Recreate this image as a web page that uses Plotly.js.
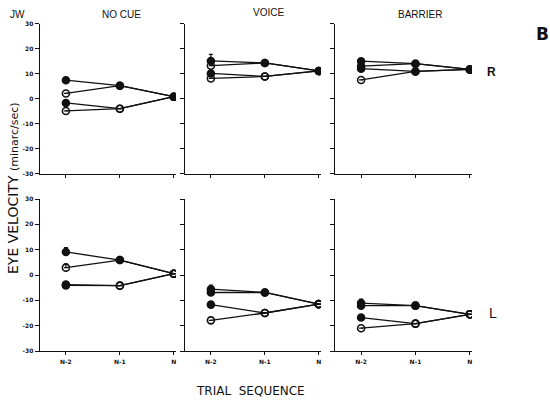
<!DOCTYPE html>
<html>
<head>
<meta charset="utf-8">
<script src="https://cdn.plot.ly/plotly-3.0.1.min.js"></script>
<style>html,body{margin:0;padding:0;background:#fff}#chart{width:550px;height:401px}</style>
</head>
<body>
<div id="chart"></div>
<script>
// ---- data ----
const sequence = ["N-2", "N-1", "N"];
const conditions = ["NO CUE", "VOICE", "BARRIER"];
const yTicks = [-30, -20, -10, 0, 10, 20, 30];

// Each panel: four trial paths (N-2 -> N-1 -> N); F = filled marker, O = open marker
const noCueR_A = [7.4, 5.2, 0.8],   noCueR_B = [2.1, 5.2, 0.8],   noCueR_C = [-1.7, -4.0, 0.8],  noCueR_D = [-4.9, -4.0, 0.8];
const voiceR_A = [15.1, 14.3, 11.1], voiceR_B = [13.2, 14.3, 11.1], voiceR_C = [10.1, 8.9, 11.1], voiceR_D = [8.1, 8.9, 11.1];
const barrierR_A = [15.0, 14.0, 11.7], barrierR_B = [13.0, 14.0, 11.7], barrierR_C = [12.0, 10.9, 11.7], barrierR_D = [7.5, 10.9, 11.7];
const noCueL_A = [9.1, 5.9, 0.5],   noCueL_B = [2.9, 5.9, 0.5],   noCueL_C = [-4.1, -4.2, 0.5],  noCueL_D = [-3.8, -4.2, 0.5];
const voiceL_A = [-5.6, -6.9, -11.5], voiceL_B = [-6.9, -6.9, -11.5], voiceL_C = [-11.7, -15.0, -11.5], voiceL_D = [-17.9, -15.0, -11.5];
const barrierL_A = [-11.1, -12.1, -15.5], barrierL_B = [-12.1, -12.1, -15.5], barrierL_C = [-16.8, -19.2, -15.5], barrierL_D = [-21.0, -19.2, -15.5];

const fillR_A = ["F","F","F"], fillR_B = ["O","F","F"], fillR_C = ["F","O","F"], fillR_D = ["O","O","F"];
const fillL_A = ["F","F","O"], fillL_B = ["O","F","O"], fillL_C = ["F","O","O"], fillL_D = ["F","O","O"];

// upward error bar on first (N-2) point
const errNoCueR = [0.8, 0, 0.6, 0], errVoiceR = [2.6, 0.8, 0.8, 0], errBarrierR = [1.0, 0, 0, 0];
const errNoCueL = [1.7, 1.5, 1.5, 0], errVoiceL = [1.6, 0, 0, 0], errBarrierL = [1.6, 0, 0, 0];

// ---- build ----
const panels = [
  {ax: 1, paths: [noCueR_A, noCueR_B, noCueR_C, noCueR_D], fills: [fillR_A, fillR_B, fillR_C, fillR_D], err: errNoCueR},
  {ax: 2, paths: [voiceR_A, voiceR_B, voiceR_C, voiceR_D], fills: [fillR_A, fillR_B, fillR_C, fillR_D], err: errVoiceR},
  {ax: 3, paths: [barrierR_A, barrierR_B, barrierR_C, barrierR_D], fills: [fillR_A, fillR_A, fillR_A, fillR_D], err: errBarrierR},
  {ax: 4, paths: [noCueL_A, noCueL_B, noCueL_C, noCueL_D], fills: [fillL_A, fillL_B, fillL_C, fillL_D], err: errNoCueL},
  {ax: 5, paths: [voiceL_A, voiceL_B, voiceL_C, voiceL_D], fills: [fillL_A, fillL_A, fillL_C, fillR_B.map(()=>"O")], err: errVoiceL},
  {ax: 6, paths: [barrierL_A, barrierL_B, barrierL_C, barrierL_D], fills: [fillL_A, fillL_A, fillL_C, ["O","O","O"]], err: errBarrierL}
];

const traces = [];
panels.forEach(p => {
  const xa = p.ax === 1 ? 'x' : 'x' + p.ax;
  const ya = p.ax === 1 ? 'y' : 'y' + p.ax;
  p.paths.forEach((vals, i) => {
    traces.push({
      type: 'scatter', mode: 'lines+markers',
      x: sequence, y: vals, xaxis: xa, yaxis: ya,
      line: {color: '#111', width: 1.3},
      marker: {
        size: 7,
        symbol: p.fills[i].map(f => f === 'F' ? 'circle' : 'circle-open'),
        color: '#111',
        line: {color: '#111', width: 1.6}
      },
      error_y: {type: 'data', symmetric: false, array: [p.err[i], 0, 0], arrayminus: [0, 0, 0],
                color: '#111', thickness: 1.2, width: 2},
      hoverinfo: 'skip', showlegend: false
    });
  });
});

const W = 550, H = 401;
const colX = [[40, 176], [185, 321], [335, 472]];
const rowY = [[23.7, 173.7], [199, 351]];
const tickFont = {family: 'DejaVu Sans', size: 6, color: '#111', weight: 'bold'};

const layout = {
  width: W, height: H, margin: {l: 0, r: 0, t: 0, b: 0},
  paper_bgcolor: '#fff', plot_bgcolor: 'rgba(0,0,0,0)', showlegend: false,
  annotations: []
};

for (let r = 0; r < 2; r++) {
  for (let c = 0; c < 3; c++) {
    const n = r * 3 + c + 1;
    const xk = n === 1 ? 'xaxis' : 'xaxis' + n;
    const yk = n === 1 ? 'yaxis' : 'yaxis' + n;
    const ya = n === 1 ? 'y' : 'y' + n;
    const xa = n === 1 ? 'x' : 'x' + n;
    layout[xk] = {
      domain: [colX[c][0] / W, colX[c][1] / W], anchor: ya,
      type: 'category', range: [-0.48, 2.04],
      showgrid: false, zeroline: false, showline: true, linecolor: '#111', linewidth: 1.4,
      ticks: 'outside', ticklen: 3, tickwidth: 1, tickcolor: '#111',
      showticklabels: r === 1, tickfont: tickFont, ticklabelstandoff: 1
    };
    layout[yk] = {
      domain: [1 - rowY[r][1] / H, 1 - rowY[r][0] / H], anchor: xa,
      range: [-30, 30], tickvals: yTicks, ticktext: yTicks.map(String),
      showgrid: false, zeroline: false, showline: true, linecolor: '#111', linewidth: 1.4,
      ticks: 'outside', ticklen: 4, tickwidth: 1, tickcolor: '#111',
      showticklabels: c === 0, tickfont: tickFont
    };
  }
}

const ann = (text, x, y, size, opts) => Object.assign({
  text: text, x: x / W, y: 1 - y / H, xref: 'paper', yref: 'paper',
  showarrow: false, xanchor: 'center', yanchor: 'middle',
  font: {family: 'Liberation Sans', size: size, color: '#111'}
}, opts || {});

layout.annotations.push(ann('JW', 17, 14, 10));
layout.annotations.push(ann(conditions[0], 121, 14, 10));
layout.annotations.push(ann(conditions[1], 268, 13, 10));
layout.annotations.push(ann(conditions[2], 420, 14, 10));
layout.annotations.push(ann('<b>B</b>', 542, 34, 17, {font: {family: 'DejaVu Sans', size: 17, color: '#111'}}));
layout.annotations.push(ann('<b>R</b>', 491, 72, 12));
layout.annotations.push(ann('L', 493, 313, 14));
layout.annotations.push(ann('TRIAL  SEQUENCE', 250, 391, 12, {font: {family: 'DejaVu Sans', size: 12, color: '#111'}}));
layout.annotations.push(ann("EYE VELOCITY <span style='font-size:11px'>(minarc/sec)</span>", 13, 188, 14,
  {textangle: -90, font: {family: 'DejaVu Sans', size: 14, color: '#111'}}));

Plotly.newPlot('chart', traces, layout, {staticPlot: true, displayModeBar: false});
</script>
</body>
</html>
